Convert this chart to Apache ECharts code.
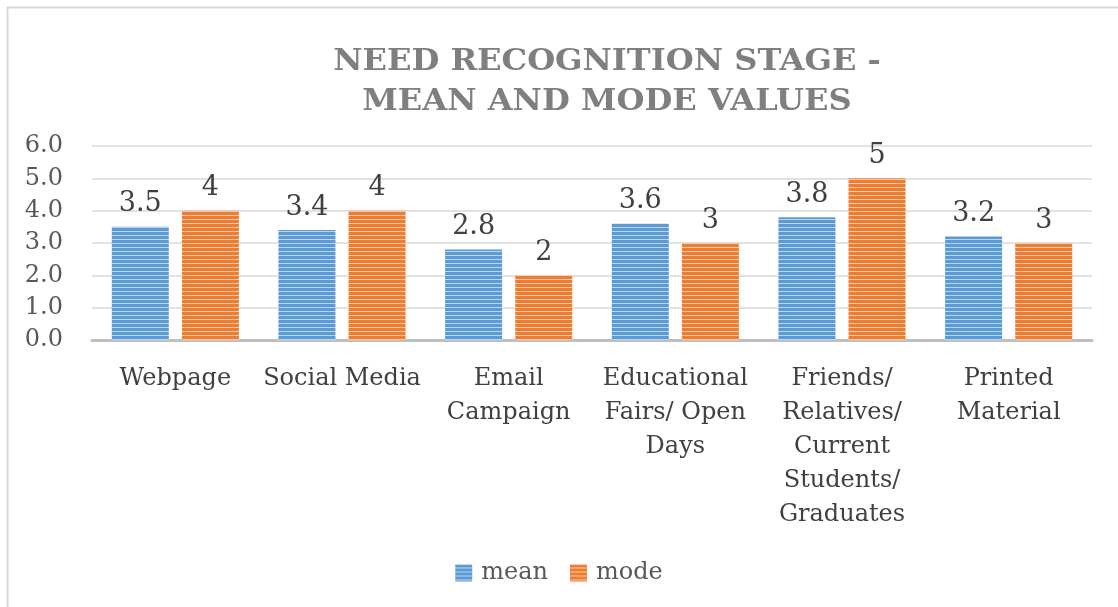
<!DOCTYPE html>
<html>
<head>
<meta charset="utf-8">
<script src="https://cdn.jsdelivr.net/npm/echarts@6/dist/echarts.min.js"></script>
<style>
  html, body { margin: 0; padding: 0; background: #fff; }
  #chart { width: 1118px; height: 607px; }
</style>
</head>
<body>
<div id="chart"></div>
<script>
const categories = [
  'Webpage',
  'Social Media',
  'Email\nCampaign',
  'Educational\nFairs/ Open\nDays',
  'Friends/\nRelatives/\nCurrent\nStudents/\nGraduates',
  'Printed\nMaterial'
]
const meanValues = [3.5, 3.4, 2.8, 3.6, 3.8, 3.2]
const modeValues = [4, 4, 2, 3, 5, 3]
const yTicks = { min: 0, max: 6, interval: 1 }
const titleLines = ['NEED RECOGNITION STAGE -', 'MEAN AND MODE VALUES']

const serif = '"DejaVu Serif", "Liberation Serif", serif'

// horizontal stripe fill like the excel pattern
function stripes(base, light) {
  const c = document.createElement('canvas')
  c.width = 4
  c.height = 4
  const ctx = c.getContext('2d')
  ctx.fillStyle = base
  ctx.fillRect(0, 0, 4, 4)
  ctx.fillStyle = light
  ctx.fillRect(0, 3, 4, 1)
  return { image: c, repeat: 'repeat' }
}

const blueFill = stripes('#5b9bd5', '#bcd6ee')
const orangeFill = stripes('#ed7d31', '#f8c8a6')

// title is letter-spaced in the original, so stretch it a little
const titleGraphics = titleLines.map((line, i) => ({
  type: 'text',
  x: 607,
  y: 62 + i * 40,
  scaleX: 1.07,
  style: {
    text: line,
    font: 'bold 30px ' + serif,
    fill: '#7f7f7f',
    align: 'center',
    verticalAlign: 'middle'
  }
}))

const chart = echarts.init(document.getElementById('chart'))
chart.setOption({
  animation: false,
  graphic: [{
    type: 'polyline',
    shape: { points: [[7.5, 620], [7.5, 7.5], [1130, 7.5]] },
    style: { stroke: '#d9d9d9', lineWidth: 2, fill: null }
  }].concat(titleGraphics),
  legend: {
    bottom: 17,
    left: 'center',
    icon: 'rect',
    itemWidth: 17,
    itemHeight: 17,
    itemGap: 22,
    itemStyle: { borderWidth: 0 },
    textStyle: { fontFamily: serif, fontSize: 24, color: '#595959', padding: [0, 0, 0, 4] },
    data: [
      { name: 'mean', itemStyle: { color: blueFill } },
      { name: 'mode', itemStyle: { color: orangeFill } }
    ]
  },
  grid: { left: 92, right: 26, top: 146, bottom: 267 },
  xAxis: {
    type: 'category',
    data: categories,
    axisTick: { show: false },
    axisLine: { lineStyle: { color: '#bfbfbf', width: 3 } },
    axisLabel: {
      interval: 0,
      margin: 22,
      fontFamily: serif,
      fontSize: 24,
      lineHeight: 34,
      color: '#404040'
    }
  },
  yAxis: {
    type: 'value',
    min: yTicks.min,
    max: yTicks.max,
    interval: yTicks.interval,
    axisLine: { show: false },
    splitLine: { lineStyle: { color: '#d9d9d9', width: 1.5 } },
    axisLabel: {
      margin: 29,
      fontFamily: serif,
      fontSize: 24,
      color: '#595959',
      formatter: v => v.toFixed(1)
    }
  },
  series: [
    {
      name: 'mean',
      type: 'bar',
      data: meanValues,
      barWidth: 57,
      barGap: '23%',
      itemStyle: { color: blueFill },
      label: {
        show: true,
        position: 'top',
        distance: 9,
        fontFamily: serif,
        fontSize: 27,
        color: '#404040'
      }
    },
    {
      name: 'mode',
      type: 'bar',
      data: modeValues,
      barWidth: 57,
      barGap: '23%',
      itemStyle: { color: orangeFill },
      label: {
        show: true,
        position: 'top',
        distance: 9,
        fontFamily: serif,
        fontSize: 27,
        color: '#404040'
      }
    }
  ]
})
</script>
</body>
</html>
